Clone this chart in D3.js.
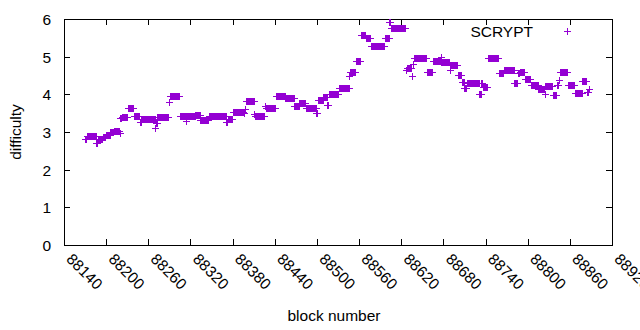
<!DOCTYPE html>
<html>
<head>
<meta charset="utf-8">
<script src="https://cdn.jsdelivr.net/npm/d3@7"></script>
<style>
  body { margin: 0; background: #fff; }
  text { font-family: "Liberation Sans", Arial, sans-serif; font-size: 15.5px; fill: #000; }
</style>
</head>
<body>
<script>
var svgWidth = 640;
var svgHeight = 330;

var margin = { top: 19, right: 28, bottom: 85, left: 64 };
var width = svgWidth - margin.left - margin.right;
var height = svgHeight - margin.top - margin.bottom;

// difficulty runs: each run starts at runStart[i] and lasts until the next run starts
var runStart = [
  88170, 88173, 88186, 88188, 88195, 88200, 88206, 88211, 88219, 88220,
  88222, 88231, 88239, 88248, 88250, 88270, 88271, 88273, 88289, 88291,
  88305, 88314, 88315, 88327, 88334, 88346, 88371, 88373, 88380, 88396,
  88397, 88399, 88411, 88412, 88426, 88427, 88442, 88455, 88468, 88469,
  88475, 88484, 88499, 88501, 88509, 88515, 88517, 88531, 88546, 88547,
  88555, 88563, 88570, 88577, 88597, 88603, 88605, 88627, 88628, 88635,
  88637, 88638, 88656, 88665, 88676, 88677, 88689, 88690, 88701, 88706,
  88710, 88713, 88731, 88734, 88736, 88743, 88759, 88766, 88781, 88786,
  88789, 88796, 88804, 88815, 88824, 88825, 88836, 88842, 88844, 88846,
  88857, 88867, 88878, 88884, 88887
];
var runDiff = [
  2.81, 2.90, 2.72, 2.81, 2.87, 2.92, 3.01, 3.03, 2.98, 3.37,
  3.39, 3.63, 3.42, 3.27, 3.34, 3.10, 3.25, 3.39, 3.80, 3.96,
  3.43, 3.30, 3.43, 3.45, 3.32, 3.42, 3.27, 3.35, 3.54, 3.50,
  3.60, 3.81, 3.48, 3.42, 3.68, 3.63, 3.95, 3.89, 3.70, 3.68,
  3.77, 3.64, 3.50, 3.85, 3.92, 3.71, 4.01, 4.16, 4.50, 4.58,
  4.88, 5.57, 5.49, 5.27, 5.49, 5.92, 5.75, 4.65, 4.70, 4.49,
  4.80, 4.96, 4.60, 4.88, 4.98, 4.85, 4.65, 4.77, 4.51, 4.34,
  4.16, 4.29, 4.01, 4.31, 4.19, 4.96, 4.56, 4.64, 4.30, 4.57,
  4.59, 4.41, 4.24, 4.15, 4.01, 4.21, 3.97, 4.26, 4.37, 4.59,
  4.24, 4.03, 4.35, 4.05, 4.13
];
var lastBlock = 88887;

var xTicks = [88140, 88200, 88260, 88320, 88380, 88440, 88500, 88560, 88620, 88680, 88740, 88800, 88860, 88920];
var yTicks = [0, 1, 2, 3, 4, 5, 6];

var seriesName = "SCRYPT";
var pointColor = "#9400d3";

// one point per block
var blockData = [];
runStart.forEach(function(start, i) {
  var end = i < runStart.length - 1 ? runStart[i + 1] - 1 : lastBlock;
  for (var b = start; b <= end; b++) {
    blockData.push({ block: b, difficulty: runDiff[i] });
  }
});

var svg = d3.select("body")
  .append("svg")
  .attr("width", svgWidth)
  .attr("height", svgHeight);

svg.append("rect")
  .attr("width", svgWidth)
  .attr("height", svgHeight)
  .attr("fill", "#fff");

var chartGroup = svg.append("g")
  .attr("transform", `translate(${margin.left}, ${margin.top})`);

var xLinearScale = d3.scaleLinear().domain([88140, 88920]).range([0, width]);
var yLinearScale = d3.scaleLinear().domain([0, 6]).range([height, 0]);

// ticks point inward and are mirrored, gnuplot style
var bottomAxis = d3.axisBottom(xLinearScale).tickValues(xTicks).tickFormat(d3.format("d"))
  .tickSizeInner(-6).tickSizeOuter(0).tickPadding(0);
var topAxis = d3.axisTop(xLinearScale).tickValues(xTicks).tickSizeInner(-6).tickSizeOuter(0).tickFormat("");
var leftAxis = d3.axisLeft(yLinearScale).tickValues(yTicks).tickFormat(d3.format("d"))
  .tickSizeInner(-6).tickSizeOuter(0).tickPadding(13);
var rightAxis = d3.axisRight(yLinearScale).tickValues(yTicks).tickSizeInner(-6).tickSizeOuter(0).tickFormat("");

var xAxis = chartGroup.append("g")
  .attr("transform", `translate(0, ${height})`)
  .call(bottomAxis);

xAxis.selectAll("text")
  .attr("y", 0)
  .attr("dy", 0)
  .attr("text-anchor", "start")
  .attr("transform", "translate(1, 15) rotate(45)");

chartGroup.append("g").call(topAxis);
chartGroup.append("g").call(leftAxis)
  .selectAll("text").attr("dy", "0.36em");
chartGroup.append("g").attr("transform", `translate(${width}, 0)`).call(rightAxis);

chartGroup.selectAll(".domain").remove();
chartGroup.selectAll(".tick line").attr("stroke", "#000").attr("shape-rendering", "crispEdges");
chartGroup.selectAll(".tick text").attr("font-size", null).attr("font-family", null);

chartGroup.append("rect")
  .attr("width", width)
  .attr("height", height)
  .attr("fill", "none")
  .attr("stroke", "#000")
  .attr("shape-rendering", "crispEdges");

var cross = "M-3.5,0H3.5M0,-3.5V3.5";

chartGroup.append("g")
  .selectAll("path")
  .data(blockData)
  .enter()
  .append("path")
  .attr("d", cross)
  .attr("transform", d => `translate(${Math.round(xLinearScale(d.block)) + 0.5}, ${Math.round(yLinearScale(d.difficulty)) + 0.5})`)
  .attr("stroke", pointColor)
  .attr("stroke-width", 1)
  .attr("fill", "none")
  .attr("shape-rendering", "crispEdges");

// legend
chartGroup.append("text")
  .attr("x", 469)
  .attr("y", 12)
  .attr("dy", "0.36em")
  .attr("text-anchor", "end")
  .text(seriesName);

chartGroup.append("path")
  .attr("d", cross)
  .attr("transform", "translate(503.5, 12.5)")
  .attr("stroke", pointColor)
  .attr("fill", "none")
  .attr("shape-rendering", "crispEdges");

// axis titles
svg.append("text")
  .attr("x", margin.left + width / 2 - 4)
  .attr("y", 321)
  .attr("text-anchor", "middle")
  .text("block number");

svg.append("text")
  .attr("transform", `translate(21, ${margin.top + height / 2}) rotate(-90)`)
  .attr("text-anchor", "middle")
  .text("difficulty");
</script>
</body>
</html>
